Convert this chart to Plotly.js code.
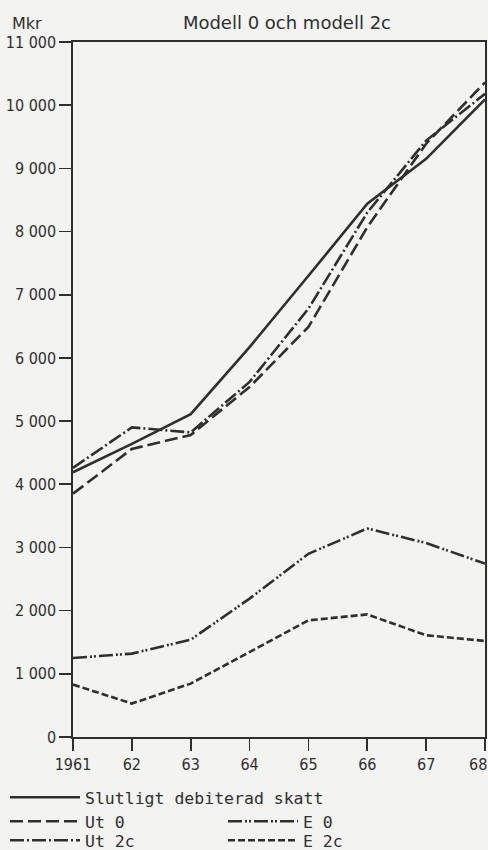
<!DOCTYPE html>
<html>
<head>
<meta charset="utf-8">
<script src="https://cdn.plot.ly/plotly-3.0.1.min.js"></script>
<style>
html,body{margin:0;padding:0;background:#f3f3f1;}
#chart{width:488px;height:850px;}
</style>
</head>
<body>
<div id="chart"></div>
<script>
// Data (Mkr)
const years = [1961, 1962, 1963, 1964, 1965, 1966, 1967, 1968];
const yearLabels = ["1961", "62", "63", "64", "65", "66", "67", "68"];
const slutligt = [4190, 4640, 5110, 6170, 7300, 8440, 9150, 10090];
const ut0 = [3850, 4560, 4780, 5540, 6490, 8070, 9390, 10360];
const ut2c = [4260, 4900, 4820, 5620, 6780, 8300, 9440, 10180];
const e0 = [1250, 1320, 1540, 2190, 2900, 3300, 3070, 2745];
const e2c = [830, 530, 845, 1345, 1846, 1940, 1610, 1520];
const yTicks = [0, 1000, 2000, 3000, 4000, 5000, 6000, 7000, 8000, 9000, 10000, 11000];

const ink = '#2f2f2f';
const lw = 2.6;

// the last year label sits at the right edge of the figure; pad it so it stays visible
const shownYearLabels = yearLabels.map((t, i) =>
  i === yearLabels.length - 1 ? t + '\u00a0\u00a0\u00a0' : t);

const traces = [
  {x: years, y: slutligt, name: 'Slutligt debiterad skatt', mode: 'lines',
   line: {color: ink, width: lw}, legend: 'legend'},
  {x: years, y: ut0, name: 'Ut 0', mode: 'lines',
   line: {color: ink, width: lw, dash: '13px,5px'}, legend: 'legend2'},
  {x: years, y: ut2c, name: 'Ut 2c', mode: 'lines',
   line: {color: ink, width: lw, dash: '14px,3px,2px,3px'}, legend: 'legend3'},
  {x: years, y: e0, name: 'E 0', mode: 'lines',
   line: {color: ink, width: lw, dash: '14px,3px,2px,2px,2px,3px'}, legend: 'legend4'},
  {x: years, y: e2c, name: 'E 2c', mode: 'lines',
   line: {color: ink, width: lw, dash: '7px,3px'}, legend: 'legend5'}
];

const legendFont = {family: 'DejaVu Sans Mono, monospace', size: 16.5, color: ink};
const legendBase = {
  xref: 'container', yref: 'container', xanchor: 'left', yanchor: 'top',
  bgcolor: 'rgba(0,0,0,0)', borderwidth: 0, font: legendFont,
  itemwidth: 70, tracegroupgap: 0, orientation: 'v'
};
const col1 = 5 / 488, col2 = 223 / 488;
const tickFont = {family: 'DejaVu Sans Condensed, DejaVu Sans, sans-serif', size: 16, color: ink};

const layout = {
  width: 488, height: 850,
  paper_bgcolor: '#f3f3f1', plot_bgcolor: '#f3f3f1',
  margin: {l: 73, r: 3, t: 42, b: 113, autoexpand: false},
  separators: ', ',
  showlegend: true,
  title: {
    text: 'Modell 0 och modell 2c',
    font: {family: 'DejaVu Sans, sans-serif', size: 18, color: ink},
    xref: 'container', x: 0.588, xanchor: 'center',
    yref: 'container', y: 1 - 23 / 850, yanchor: 'middle'
  },
  xaxis: {
    range: [1961, 1968], tickmode: 'array', tickvals: years, ticktext: shownYearLabels,
    showgrid: false, zeroline: false, showline: true, mirror: true,
    linecolor: ink, linewidth: 1.6, ticks: 'outside', ticklen: 12, tickwidth: 1.6,
    tickcolor: ink, tickangle: 0, automargin: false, ticklabeloverflow: 'allow',
    tickfont: tickFont
  },
  yaxis: {
    range: [0, 11000], tickmode: 'array', tickvals: yTicks, tickformat: ',d',
    showgrid: false, zeroline: false, showline: true, mirror: true,
    linecolor: ink, linewidth: 1.6, ticks: 'outside', ticklen: 12, tickwidth: 1.6,
    tickcolor: ink, automargin: false, ticklabeloverflow: 'allow',
    tickfont: tickFont
  },
  legend: Object.assign({}, legendBase, {x: col1, y: 1 - 780 / 850}),
  legend2: Object.assign({}, legendBase, {x: col1, y: 1 - 804 / 850}),
  legend3: Object.assign({}, legendBase, {x: col1, y: 1 - 823 / 850}),
  legend4: Object.assign({}, legendBase, {x: col2, y: 1 - 804 / 850}),
  legend5: Object.assign({}, legendBase, {x: col2, y: 1 - 823 / 850}),
  annotations: [
    {text: 'Mkr', xref: 'paper', yref: 'paper', x: (10 - 73) / 412, y: 1 + 19 / 695,
     xanchor: 'left', yanchor: 'middle', showarrow: false,
     font: {family: 'DejaVu Sans, sans-serif', size: 16, color: ink}}
  ]
};

Plotly.newPlot('chart', traces, layout, {displayModeBar: false, staticPlot: true});
</script>
</body>
</html>
